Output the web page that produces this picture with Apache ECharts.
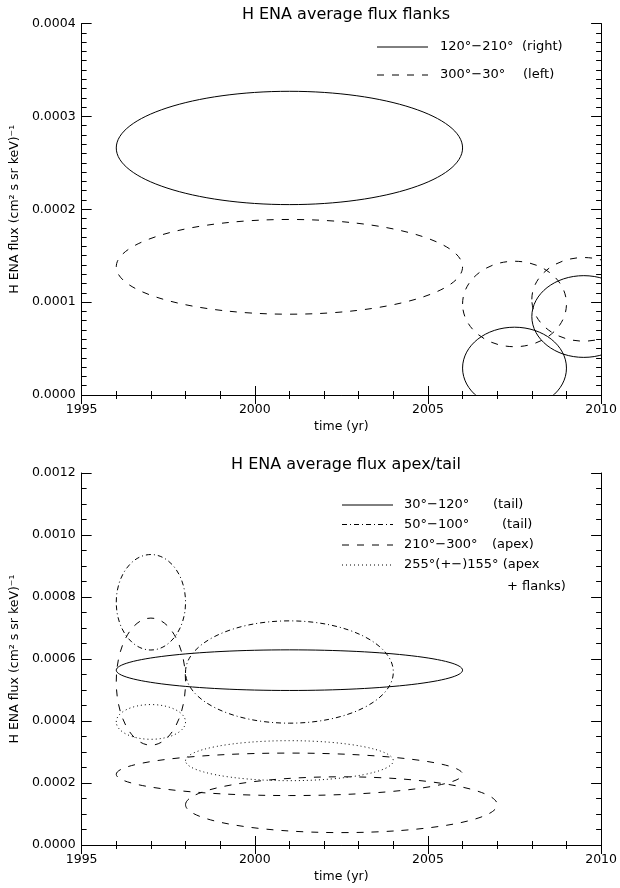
<!DOCTYPE html>
<html lang="en">
<head>
    <meta charset="UTF-8">
    <title>H ENA average flux</title>
    <script src="https://cdn.jsdelivr.net/npm/echarts@6/dist/echarts.min.js"></script>
    <style type="text/css">
        html, body { margin: 0; padding: 0; background: #fff; }
        #main { width: 620px; height: 888px; }
    </style>
</head>
<body>
    <div id="main"></div>
    <script>
        // tick labels
        var yearTicks = [1995, 2000, 2005, 2010];
        var flankFluxTicks = [0, 0.0001, 0.0002, 0.0003, 0.0004];
        var apexFluxTicks = [0, 0.0002, 0.0004, 0.0006, 0.0008, 0.0010, 0.0012];

        // top panel: flanks. each ellipse = centre year, centre flux, half width (yr), half height (flux)
        var rightYear = [2001, 2007.5, 2009.5];
        var rightFlux = [0.000266, 0.000029, 0.0000845];
        var rightHalfYear = [5, 1.5, 1.5];
        var rightHalfFlux = [0.000061, 0.000044, 0.000044];

        var leftYear = [2001, 2007.5, 2009.5];
        var leftFlux = [0.000138, 0.000098, 0.000103];
        var leftHalfYear = [5, 1.5, 1.5];
        var leftHalfFlux = [0.000051, 0.000046, 0.000045];

        // bottom panel: apex / tail
        var tailYear = [2001];
        var tailFlux = [0.000564];
        var tailHalfYear = [5];
        var tailHalfFlux = [0.0000655];

        var tail2Year = [2001, 1997];
        var tail2Flux = [0.000558, 0.000783];
        var tail2HalfYear = [3, 1];
        var tail2HalfFlux = [0.000165, 0.000154];

        var apexYear = [1997, 2001, 2002.5];
        var apexFlux = [0.000527, 0.000228, 0.00013];
        var apexHalfYear = [1, 5, 4.5];
        var apexHalfFlux = [0.000205, 0.0000685, 0.00009];

        var wideYear = [1997, 2001];
        var wideFlux = [0.000397, 0.000272];
        var wideHalfYear = [1, 3];
        var wideHalfFlux = [0.000056, 0.0000645];

        var FONT = 'DejaVu Sans';
        var SOLID = null, DASHED = [7, 8], DASHDOT = [5, 3, 1, 3], DOTTED = [1, 3];

        function rows(x, y, hx, hy) {
            var out = [];
            for (var i = 0; i < x.length; i++) out.push([x[i], y[i], hx[i], hy[i]]);
            return out;
        }

        function ellipseSeries(name, data, dash, xi, yi) {
            return {
                name: name,
                type: 'custom',
                xAxisIndex: xi,
                yAxisIndex: yi,
                clip: true,
                silent: true,
                data: data,
                renderItem: function (params, api) {
                    var c = api.coord([api.value(0), api.value(1)]);
                    var s = api.size([api.value(2), api.value(3)]);
                    return {
                        type: 'ellipse',
                        shape: {cx: c[0], cy: c[1], rx: s[0], ry: s[1]},
                        style: {fill: 'none', stroke: '#000', lineWidth: 1, lineDash: dash}
                    };
                }
            };
        }

        function xAxes(gi, showLabels) {
            return {
                type: 'value', gridIndex: gi, position: showLabels ? 'bottom' : 'top',
                min: yearTicks[0], max: yearTicks[yearTicks.length - 1], interval: 5,
                name: showLabels ? 'time (yr)' : '', nameLocation: 'middle', nameGap: 25,
                nameTextStyle: {color: '#000', fontFamily: FONT, fontSize: 12.5},
                axisLine: {show: true, lineStyle: {color: '#000', width: 1}},
                axisTick: {show: true, inside: true, length: 9, lineStyle: {color: '#000'}},
                minorTick: {show: true, splitNumber: 5, length: 4, lineStyle: {color: '#000'}},
                splitLine: {show: false},
                axisLabel: {
                    show: showLabels, margin: 8, color: '#000', fontFamily: FONT, fontSize: 12.5,
                    formatter: function (v) { return String(v); }
                },
                axisPointer: {show: false}
            };
        }

        function yAxes(gi, ticks, minorSplit, showLabels) {
            return {
                type: 'value', gridIndex: gi, position: showLabels ? 'left' : 'right',
                min: ticks[0], max: ticks[ticks.length - 1], interval: ticks[1] - ticks[0],
                name: showLabels ? 'H ENA flux (cm\u00b2 s sr keV)\u207b\u00b9' : '',
                nameLocation: 'middle', nameRotate: 90, nameGap: 58,
                nameTextStyle: {color: '#000', fontFamily: FONT, fontSize: 12.5},
                axisLine: {show: true, lineStyle: {color: '#000', width: 1}},
                axisTick: {show: true, inside: true, length: 10, lineStyle: {color: '#000'}},
                minorTick: {show: true, splitNumber: minorSplit, length: 5, lineStyle: {color: '#000'}},
                splitLine: {show: false},
                axisLabel: {
                    show: showLabels, margin: 6, color: '#000', fontFamily: FONT, fontSize: 12.5,
                    formatter: function (v) { return v.toFixed(4); }
                }
            };
        }

        function legendRow(x1, x2, y, dash, parts) {
            var els = [{
                type: 'line', silent: true,
                shape: {x1: x1, y1: y, x2: x2, y2: y},
                style: {stroke: '#000', lineWidth: 1, lineDash: dash}
            }];
            parts.forEach(function (p) {
                els.push({
                    type: 'text', silent: true, x: p[0], y: y,
                    style: {text: p[1], fill: '#000', font: '13px "DejaVu Sans"', textVerticalAlign: 'middle'}
                });
            });
            return els;
        }

        var legendEls = [].concat(
            legendRow(377, 428, 47, SOLID, [[440, '120\u00b0\u2212210\u00b0'], [522, '(right)']]),
            legendRow(377, 428, 75, DASHED, [[440, '300\u00b0\u221230\u00b0'], [523, '(left)']]),
            legendRow(342, 393, 505, SOLID, [[404, '30\u00b0\u2212120\u00b0'], [493, '(tail)']]),
            legendRow(342, 393, 524.5, DASHDOT, [[404, '50\u00b0\u2212100\u00b0'], [502, '(tail)']]),
            legendRow(342, 393, 545, DASHED, [[404, '210\u00b0\u2212300\u00b0'], [492, '(apex)']]),
            legendRow(342, 393, 565, DOTTED, [[404, '255\u00b0(+\u2212)155\u00b0 (apex'], [507, '+ flanks)']])
        );
        // second line of the last label
        legendEls[legendEls.length - 1].y = 586.5;

        var myChart = echarts.init(document.getElementById('main'), null, {renderer: 'canvas'});
        var option = {
            backgroundColor: '#fff',
            animation: false,
            textStyle: {fontFamily: FONT, color: '#000'},
            title: [
                {text: 'H ENA average flux flanks', left: 341, top: 2, textAlign: 'center',
                 textStyle: {fontFamily: FONT, fontSize: 16, fontWeight: 'normal', color: '#000'}},
                {text: 'H ENA average flux apex/tail', left: 341, top: 452, textAlign: 'center',
                 textStyle: {fontFamily: FONT, fontSize: 16, fontWeight: 'normal', color: '#000'}}
            ],
            grid: [
                {left: 79, right: 16, top: 23.5, height: 371.5},
                {left: 79, right: 16, top: 473, height: 372}
            ],
            xAxis: [xAxes(0, true), xAxes(0, false), xAxes(1, true), xAxes(1, false)],
            yAxis: [
                yAxes(0, flankFluxTicks, 10, true), yAxes(0, flankFluxTicks, 10, false),
                yAxes(1, apexFluxTicks, 4, true), yAxes(1, apexFluxTicks, 4, false)
            ],
            series: [
                ellipseSeries('120\u00b0-210\u00b0 (right)', rows(rightYear, rightFlux, rightHalfYear, rightHalfFlux), SOLID, 0, 0),
                ellipseSeries('300\u00b0-30\u00b0 (left)', rows(leftYear, leftFlux, leftHalfYear, leftHalfFlux), DASHED, 0, 0),
                ellipseSeries('30\u00b0-120\u00b0 (tail)', rows(tailYear, tailFlux, tailHalfYear, tailHalfFlux), SOLID, 2, 2),
                ellipseSeries('50\u00b0-100\u00b0 (tail)', rows(tail2Year, tail2Flux, tail2HalfYear, tail2HalfFlux), DASHDOT, 2, 2),
                ellipseSeries('210\u00b0-300\u00b0 (apex)', rows(apexYear, apexFlux, apexHalfYear, apexHalfFlux), DASHED, 2, 2),
                ellipseSeries('255\u00b0(+-)155\u00b0 (apex + flanks)', rows(wideYear, wideFlux, wideHalfYear, wideHalfFlux), DOTTED, 2, 2)
            ],
            graphic: legendEls
        };
        myChart.setOption(option);
    </script>
</body>
</html>
